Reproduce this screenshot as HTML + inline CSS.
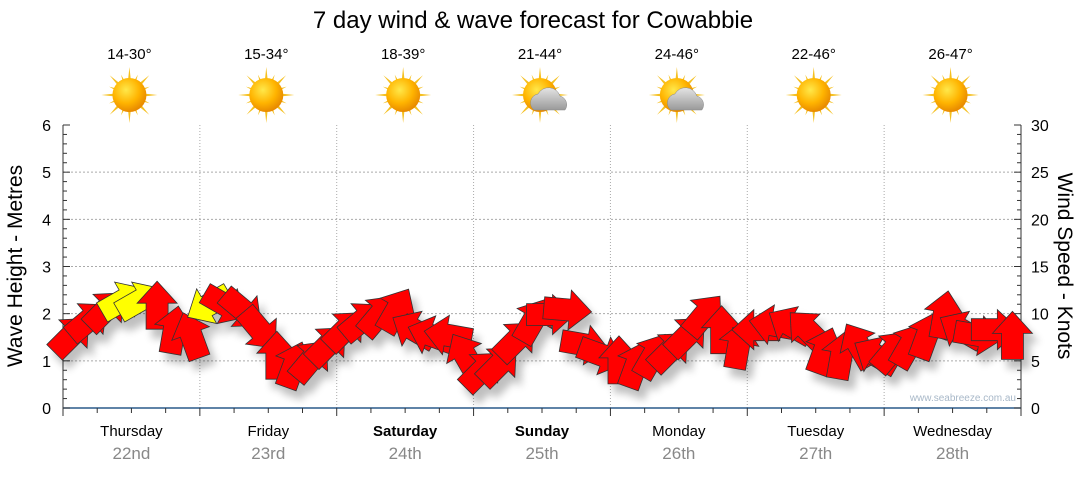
<!DOCTYPE html>
<html><head><meta charset="utf-8"><style>
body{margin:0;background:#fff;}
svg text{font-family:"Liberation Sans","DejaVu Sans",sans-serif;}
</style></head><body>
<svg id="chart" width="1080" height="475" xmlns="http://www.w3.org/2000/svg">
<defs>
<filter id="sh" x="-50%" y="-50%" width="200%" height="200%"><feGaussianBlur in="SourceAlpha" stdDeviation="4"/><feOffset dx="6" dy="9"/><feComponentTransfer><feFuncA type="linear" slope="0.25"/></feComponentTransfer><feMerge><feMergeNode/><feMergeNode in="SourceGraphic"/></feMerge></filter>
<radialGradient id="sun" cx="40%" cy="35%" r="65%"><stop offset="0" stop-color="#ffe84a"/><stop offset="0.6" stop-color="#ffb400"/><stop offset="1" stop-color="#e88a00"/></radialGradient>
<linearGradient id="cloud" x1="0" y1="0" x2="0" y2="1"><stop offset="0" stop-color="#e4e4e4"/><stop offset="1" stop-color="#9a9a9a"/></linearGradient>
</defs>
<text x="533" y="28" font-size="24" text-anchor="middle" fill="#000">7 day wind &amp; wave forecast for Cowabbie</text>
<g id="grid"></g>
<g id="axes"></g>
<g id="header"></g>
<g id="arrows" filter="url(#sh)"></g>
<text x="1016" y="401" font-size="10" text-anchor="end" fill="#a8b8c8">www.seabreeze.com.au</text>
<text transform="translate(22,266) rotate(-90)" font-size="21" text-anchor="middle">Wave Height - Metres</text>
<text transform="translate(1058,266) rotate(90)" font-size="21" text-anchor="middle">Wind Speed - Knots</text>
</svg>
<script>
const days=["Thursday","Friday","Saturday","Sunday","Monday","Tuesday","Wednesday"];
const dates=["22nd","23rd","24th","25th","26th","27th","28th"];
const boldDays=[false,false,true,true,false,false,false];
const temps=["14-30°","15-34°","18-39°","21-44°","24-46°","22-46°","26-47°"];
const cloudy=[false,false,false,true,true,false,false];
const leftTicks=[0,1,2,3,4,5,6];
const rightTicks=[0,5,10,15,20,25,30];
const windKnots=[7.7,9.3,10.4,11.4,11.4,10.9,8.3,7.7,10.9,10.9,10.4,8.3,5.6,4.6,5.1,6.7,8.3,9.3,9.9,10.4,8.3,7.7,7.7,5.6,4.0,4.6,7.2,9.3,9.9,10.4,6.7,5.6,5.1,4.6,5.6,6.1,7.7,9.9,8.3,6.7,8.3,8.8,8.8,8.3,6.1,5.6,6.7,5.6,6.1,6.7,7.7,9.9,8.3,7.7,8.3,7.7];
const windDir=[45,50,45,60,60,0,10,-20,240,120,130,140,0,20,40,45,45,50,40,30,300,290,280,330,45,45,45,30,90,95,100,110,0,20,30,45,45,40,0,10,270,280,300,315,20,10,330,300,40,30,20,10,300,100,90,0];
const windGust=[0,0,0,1,1,0,0,0,1,0,0,0,0,0,0,0,0,0,0,0,0,0,0,0,0,0,0,0,0,0,0,0,0,0,0,0,0,0,0,0,0,0,0,0,0,0,0,0,0,0,0,0,0,0,0,0];
const NS="http://www.w3.org/2000/svg";
const X0=63,X1=1021,Y0=408,Y1=125;
const dayW=(X1-X0)/7;
const yM=m=>Y0-(m/6)*(Y0-Y1);
const yK=k=>Y0-(k/30)*(Y0-Y1);
const xI=i=>X0+(i+0.5)*(X1-X0)/windKnots.length;
function mk(tag,attrs,parent){const e=document.createElementNS(NS,tag);for(const k in attrs)e.setAttribute(k,attrs[k]);parent.appendChild(e);return e;}
const grid=document.getElementById('grid'),axes=document.getElementById('axes'),hdr=document.getElementById('header'),arr=document.getElementById('arrows');
leftTicks.forEach(v=>{if(v>0&&v<6){const l=mk('line',{x1:X0,x2:X1,y1:yM(v),y2:yM(v),stroke:'#aaa','stroke-dasharray':'2,2'},grid);}
 const t=mk('text',{x:X0-12,y:yM(v)+6,'font-size':16,'text-anchor':'end'},axes);t.textContent=v;});
rightTicks.forEach(v=>{const t=mk('text',{x:X1+10,y:yK(v)+6,'font-size':16},axes);t.textContent=v;});
for(let i=1;i<7;i++){const l=mk('line',{x1:X0+i*dayW,x2:X0+i*dayW,y1:Y1,y2:Y0,stroke:'#aaa','stroke-dasharray':'1,2'},grid);}
mk('line',{x1:X0,x2:X0,y1:Y1,y2:Y0,stroke:'#333'},axes);
mk('line',{x1:X1,x2:X1,y1:Y1,y2:Y0,stroke:'#333'},axes);
mk('line',{x1:X0,x2:X1,y1:Y0,y2:Y0,stroke:'#2a5a8a','stroke-width':1.5},axes);
for(let m=0;m<=30;m++){const y=Y0-m*(Y0-Y1)/30;const w=m%5==0?7:4;mk('line',{x1:X0,x2:X0+w,y1:y,y2:y,stroke:'#333'},axes);mk('line',{x1:X1-w,x2:X1,y1:y,y2:y,stroke:'#333'},axes);}
for(let q=0;q<=28;q++){const x=X0+q*dayW/4;mk('line',{x1:x,x2:x,y1:Y0,y2:Y0+(q%4==0?8:5),stroke:'#333'},axes);}
days.forEach((d,i)=>{const cx=X0+(i+0.5)*dayW;
 const t=mk('text',{x:cx,y:436,'font-size':15,'text-anchor':'middle','font-weight':boldDays[i]?'bold':'normal'},axes);t.textContent=d;
 const t2=mk('text',{x:cx,y:459,'font-size':17,'text-anchor':'middle',fill:'#888'},axes);t2.textContent=dates[i];
 const t3=mk('text',{x:cx-2,y:59,'font-size':15,'text-anchor':'middle'},hdr);t3.textContent=temps[i];
 const g=mk('g',{transform:`translate(${cx-2},95)`},hdr);
 for(let r=0;r<16;r++){const L=r%2==0?28:22;mk('polygon',{points:`-3,0 3,0 0,-${L}`,fill:'#f5c020',transform:`rotate(${r*22.5})`},g);}
 mk('circle',{r:17,fill:'url(#sun)'},g);
 if(cloudy[i]){mk('path',{d:'M-6,15 a9,9 0 0 1 4,-16 a12,12 0 0 1 22,2 a9,9 0 0 1 5,14 z',fill:'url(#cloud)',stroke:'#888','stroke-width':0.5},g);}
});
windKnots.forEach((k,i)=>{const cx=xI(i),cy=yK(k);
 const p=mk('polygon',{points:'-11,24 11,24 11,-2 20,-2 0,-24 -20,-2 -11,-2',fill:windGust[i]?'#ffff00':'#ff0000',stroke:'#333','stroke-width':0.8,transform:`translate(${cx},${cy}) rotate(${windDir[i]})`},arr);
 
 
});
</script>
</body></html>
